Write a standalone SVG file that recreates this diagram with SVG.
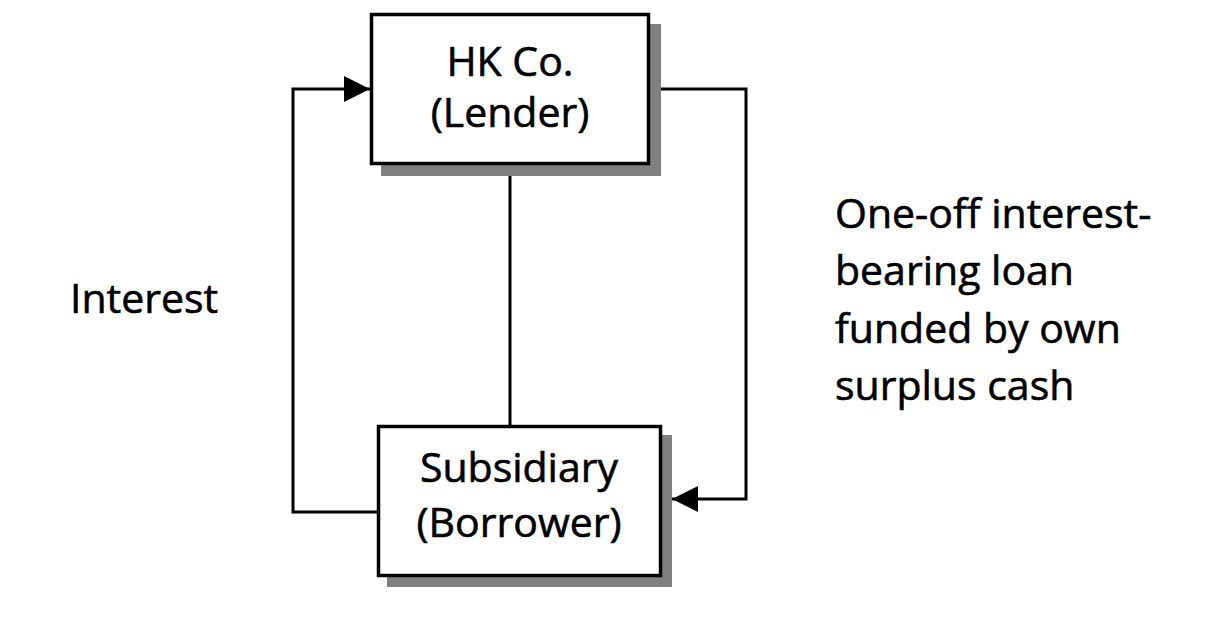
<svg xmlns="http://www.w3.org/2000/svg" width="1220" height="626" viewBox="0 0 1220 626">
<defs>
<style>
.box{fill:#fff;stroke:#000;stroke-width:3.5}
.shadow{fill:#808080}
.conn{fill:none;stroke:#000;stroke-width:3}
text{font-family:"Open Sans","Liberation Sans",sans-serif;font-size:41px;fill:#000;stroke:#000;stroke-width:0.6}
.c{text-anchor:middle}
</style>
<marker id="arr" markerUnits="userSpaceOnUse" markerWidth="27" markerHeight="27" refX="26" refY="13" orient="auto">
<path d="M0,0 L26,13 L0,26 z" fill="#000"/>
</marker>
</defs>
<rect width="1220" height="626" fill="#fff"/>
<g id="connectors">
<line class="conn" x1="510" y1="165" x2="510" y2="425"/>
<polyline class="conn" points="377,512 293,512 293,89 370,89" marker-end="url(#arr)"/>
<polyline class="conn" points="650,89 746,89 746,499 672,499" marker-end="url(#arr)"/>
</g>
<g id="hk">
<rect class="shadow" x="381" y="24" width="280" height="152"/>
<rect class="box" x="371.5" y="14.5" width="277" height="149"/>
<text class="c" x="510" y="76">HK Co.</text>
<text class="c" x="510" y="127">(Lender)</text>
</g>
<g id="sub">
<rect class="shadow" x="387" y="435" width="285" height="152"/>
<rect class="box" x="378.5" y="426.5" width="282" height="149"/>
<text class="c" x="519" y="482">Subsidiary</text>
<text class="c" x="519" y="537">(Borrower)</text>
</g>
<g id="labels">
<text x="70" y="313">Interest</text>
<text x="835" y="228">One-off interest-</text>
<text x="835" y="285">bearing loan</text>
<text x="835" y="343">funded by own</text>
<text x="835" y="400">surplus cash</text>
</g>
</svg>
